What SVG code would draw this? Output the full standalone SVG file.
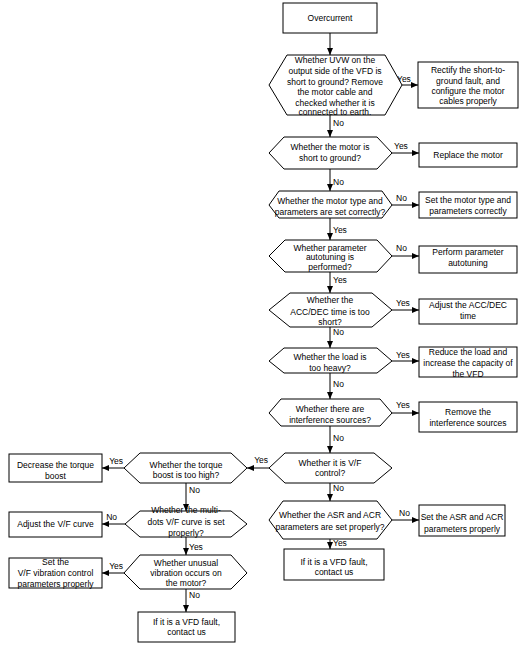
<svg xmlns="http://www.w3.org/2000/svg" width="527" height="646" viewBox="0 0 527 646">
<style>
.n rect,.n polygon{fill:#fff;stroke:#000;stroke-width:1}
text{font-family:"Liberation Sans",Arial,sans-serif;font-size:8.5px;fill:#000}
.n text{text-anchor:middle}
.c line{stroke:#000;stroke-width:1;marker-end:url(#ah)}
</style>
<defs>
<marker id="ah" markerUnits="userSpaceOnUse" markerWidth="7" markerHeight="6" refX="7" refY="3" orient="auto">
<path d="M0,0 L7,3 L0,6 z" fill="#000"/>
</marker>
</defs>
<rect width="527" height="646" fill="#fff"/>
<g id="connectors" class="c">
<line x1="330" y1="33" x2="330" y2="55"/>
<line x1="402" y1="85" x2="418" y2="85"/>
<line x1="330" y1="115" x2="330" y2="137"/>
<line x1="392" y1="153" x2="419" y2="153"/>
<line x1="330" y1="169" x2="330" y2="191"/>
<line x1="392" y1="205" x2="419" y2="205"/>
<line x1="330" y1="218" x2="330" y2="240"/>
<line x1="392" y1="256" x2="419" y2="256"/>
<line x1="330" y1="272" x2="330" y2="293"/>
<line x1="392" y1="310" x2="419" y2="310"/>
<line x1="330" y1="327" x2="330" y2="348"/>
<line x1="392" y1="361" x2="419" y2="361"/>
<line x1="330" y1="373" x2="330" y2="399"/>
<line x1="392" y1="413" x2="419" y2="413"/>
<line x1="330" y1="426" x2="330" y2="453"/>
<line x1="269" y1="468" x2="247" y2="468"/>
<line x1="330" y1="483" x2="330" y2="501"/>
<line x1="392" y1="520" x2="419" y2="520"/>
<line x1="330" y1="539" x2="330" y2="549"/>
<line x1="124" y1="468" x2="102" y2="468"/>
<line x1="186" y1="483" x2="186" y2="511"/>
<line x1="125" y1="524" x2="102" y2="524"/>
<line x1="186" y1="537" x2="186" y2="555"/>
<line x1="124" y1="573" x2="102" y2="573"/>
<line x1="186" y1="589" x2="186" y2="612"/>
</g>
<g id="labels">
<text x="397" y="82">Yes</text>
<text x="333" y="126">No</text>
<text x="394" y="149">Yes</text>
<text x="333" y="185">No</text>
<text x="396" y="201">No</text>
<text x="333" y="233">Yes</text>
<text x="396" y="251">No</text>
<text x="333" y="283">Yes</text>
<text x="396" y="306">Yes</text>
<text x="333" y="335">No</text>
<text x="396" y="358">Yes</text>
<text x="333" y="387">No</text>
<text x="396" y="408">Yes</text>
<text x="333" y="441">No</text>
<text x="268" y="463" text-anchor="end">Yes</text>
<text x="333" y="491">No</text>
<text x="399" y="516">No</text>
<text x="333" y="546">Yes</text>
<text x="123" y="464" text-anchor="end">Yes</text>
<text x="189" y="493">No</text>
<text x="117" y="520" text-anchor="end">No</text>
<text x="189" y="550">Yes</text>
<text x="123" y="569" text-anchor="end">Yes</text>
<text x="189" y="598">No</text>
</g>
<g id="start" class="n"><rect x="283" y="3" width="94" height="30"/><text x="330" y="21">Overcurrent</text></g>
<g id="d1" class="n"><polygon points="269,85 287,55 385,55 402,85 385,115 287,115"/>
<text x="335" y="63">Whether UVW on the</text><text x="335" y="74">output side of the VFD is</text><text x="335" y="85">short to ground? Remove</text><text x="335" y="95">the motor cable and</text><text x="335" y="106">checked whether it is</text><text x="335" y="115">connected to earth.</text></g>
<g id="b1" class="n"><rect x="418" y="62" width="100" height="46"/>
<text x="468" y="73">Rectify the short-to-</text><text x="468" y="84">ground fault, and</text><text x="468" y="94">configure the motor</text><text x="468" y="104">cables properly</text></g>
<g id="d2" class="n"><polygon points="269,153 284,137 377,137 392,153 377,169 284,169"/>
<text x="330" y="150">Whether the motor is</text><text x="330" y="161">short to ground?</text></g>
<g id="b2" class="n"><rect x="419" y="143" width="98" height="24"/><text x="468" y="158">Replace the motor</text></g>
<g id="d3" class="n"><polygon points="269,205 279,191 382,191 392,205 382,218 279,218"/>
<text x="330" y="204">Whether the motor type and</text><text x="330" y="215">parameters are set correctly?</text></g>
<g id="b3" class="n"><rect x="419" y="192" width="98" height="26"/><text x="468" y="203">Set the motor type and</text><text x="468" y="214">parameters correctly</text></g>
<g id="d4" class="n"><polygon points="269,256 285,240 377,240 392,256 377,272 285,272"/>
<text x="330" y="251">Whether parameter</text><text x="330" y="260">autotuning is</text><text x="330" y="270">performed?</text></g>
<g id="b4" class="n"><rect x="419" y="246" width="98" height="27"/><text x="468" y="255">Perform parameter</text><text x="468" y="266">autotuning</text></g>
<g id="d5" class="n"><polygon points="269,310 290,293 372,293 392,310 372,327 290,327"/>
<text x="330" y="303">Whether the</text><text x="330" y="315">ACC/DEC time is too</text><text x="330" y="325">short?</text></g>
<g id="b5" class="n"><rect x="419" y="299" width="98" height="25"/><text x="468" y="308">Adjust the ACC/DEC</text><text x="468" y="319">time</text></g>
<g id="d6" class="n"><polygon points="269,361 284,348 377,348 392,361 377,373 284,373"/>
<text x="330" y="360">Whether the load is</text><text x="330" y="371">too heavy?</text></g>
<g id="b6" class="n"><rect x="419" y="347" width="98" height="30"/><text x="468" y="355">Reduce the load and</text><text x="468" y="366">increase the capacity of</text><text x="468" y="377">the VFD</text></g>
<g id="d7" class="n"><polygon points="269,413 281,399 380,399 392,413 380,426 281,426"/>
<text x="330" y="412">Whether there are</text><text x="330" y="423">interference sources?</text></g>
<g id="b7" class="n"><rect x="419" y="402" width="98" height="30"/><text x="468" y="415">Remove the</text><text x="468" y="426">interference sources</text></g>
<g id="d8" class="n"><polygon points="269,468 285,453 374,453 392,468 374,483 285,483"/>
<text x="330" y="466">Whether it is V/F</text><text x="330" y="476">control?</text></g>
<g id="d9" class="n"><polygon points="269,520 283,501 377,501 392,520 377,539 283,539"/>
<text x="330" y="518">Whether the ASR and ACR</text><text x="330" y="530">parameters are set properly?</text></g>
<g id="b9" class="n"><rect x="419" y="505" width="86" height="31"/><text x="462" y="520">Set the ASR and ACR</text><text x="462" y="532">parameters properly</text></g>
<g id="e1" class="n"><rect x="284" y="549" width="100" height="31"/><text x="334" y="565">If it is a VFD fault,</text><text x="334" y="575">contact us</text></g>
<g id="d10" class="n"><polygon points="124,468 140,453 231,453 247,468 231,483 140,483"/>
<text x="186" y="468">Whether the torque</text><text x="186" y="478">boost is too high?</text></g>
<g id="b10" class="n"><rect x="9" y="454" width="93" height="28"/><text x="55.5" y="468">Decrease the torque</text><text x="55.5" y="479">boost</text></g>
<g id="d11" class="n"><polygon points="125,524 140,511 231,511 247,524 231,537 140,537"/>
<text x="186" y="513">Whether the multi-</text><text x="186" y="525">dots V/F curve is set</text><text x="186" y="536">properly?</text></g>
<g id="b11" class="n"><rect x="9" y="512" width="93" height="25"/><text x="55.5" y="527">Adjust the V/F curve</text></g>
<g id="d12" class="n"><polygon points="124,573 140,555 231,555 247,573 231,589 140,589"/>
<text x="186" y="566">Whether unusual</text><text x="186" y="576">vibration occurs on</text><text x="186" y="586">the motor?</text></g>
<g id="b12" class="n"><rect x="9" y="558" width="93" height="30"/><text x="55.5" y="565">Set the</text><text x="55.5" y="576">V/F vibration control</text><text x="55.5" y="587">parameters properly</text></g>
<g id="e2" class="n"><rect x="138" y="612" width="97" height="30"/><text x="186.5" y="625">If it is a VFD fault,</text><text x="186.5" y="635">contact us</text></g>
</svg>
